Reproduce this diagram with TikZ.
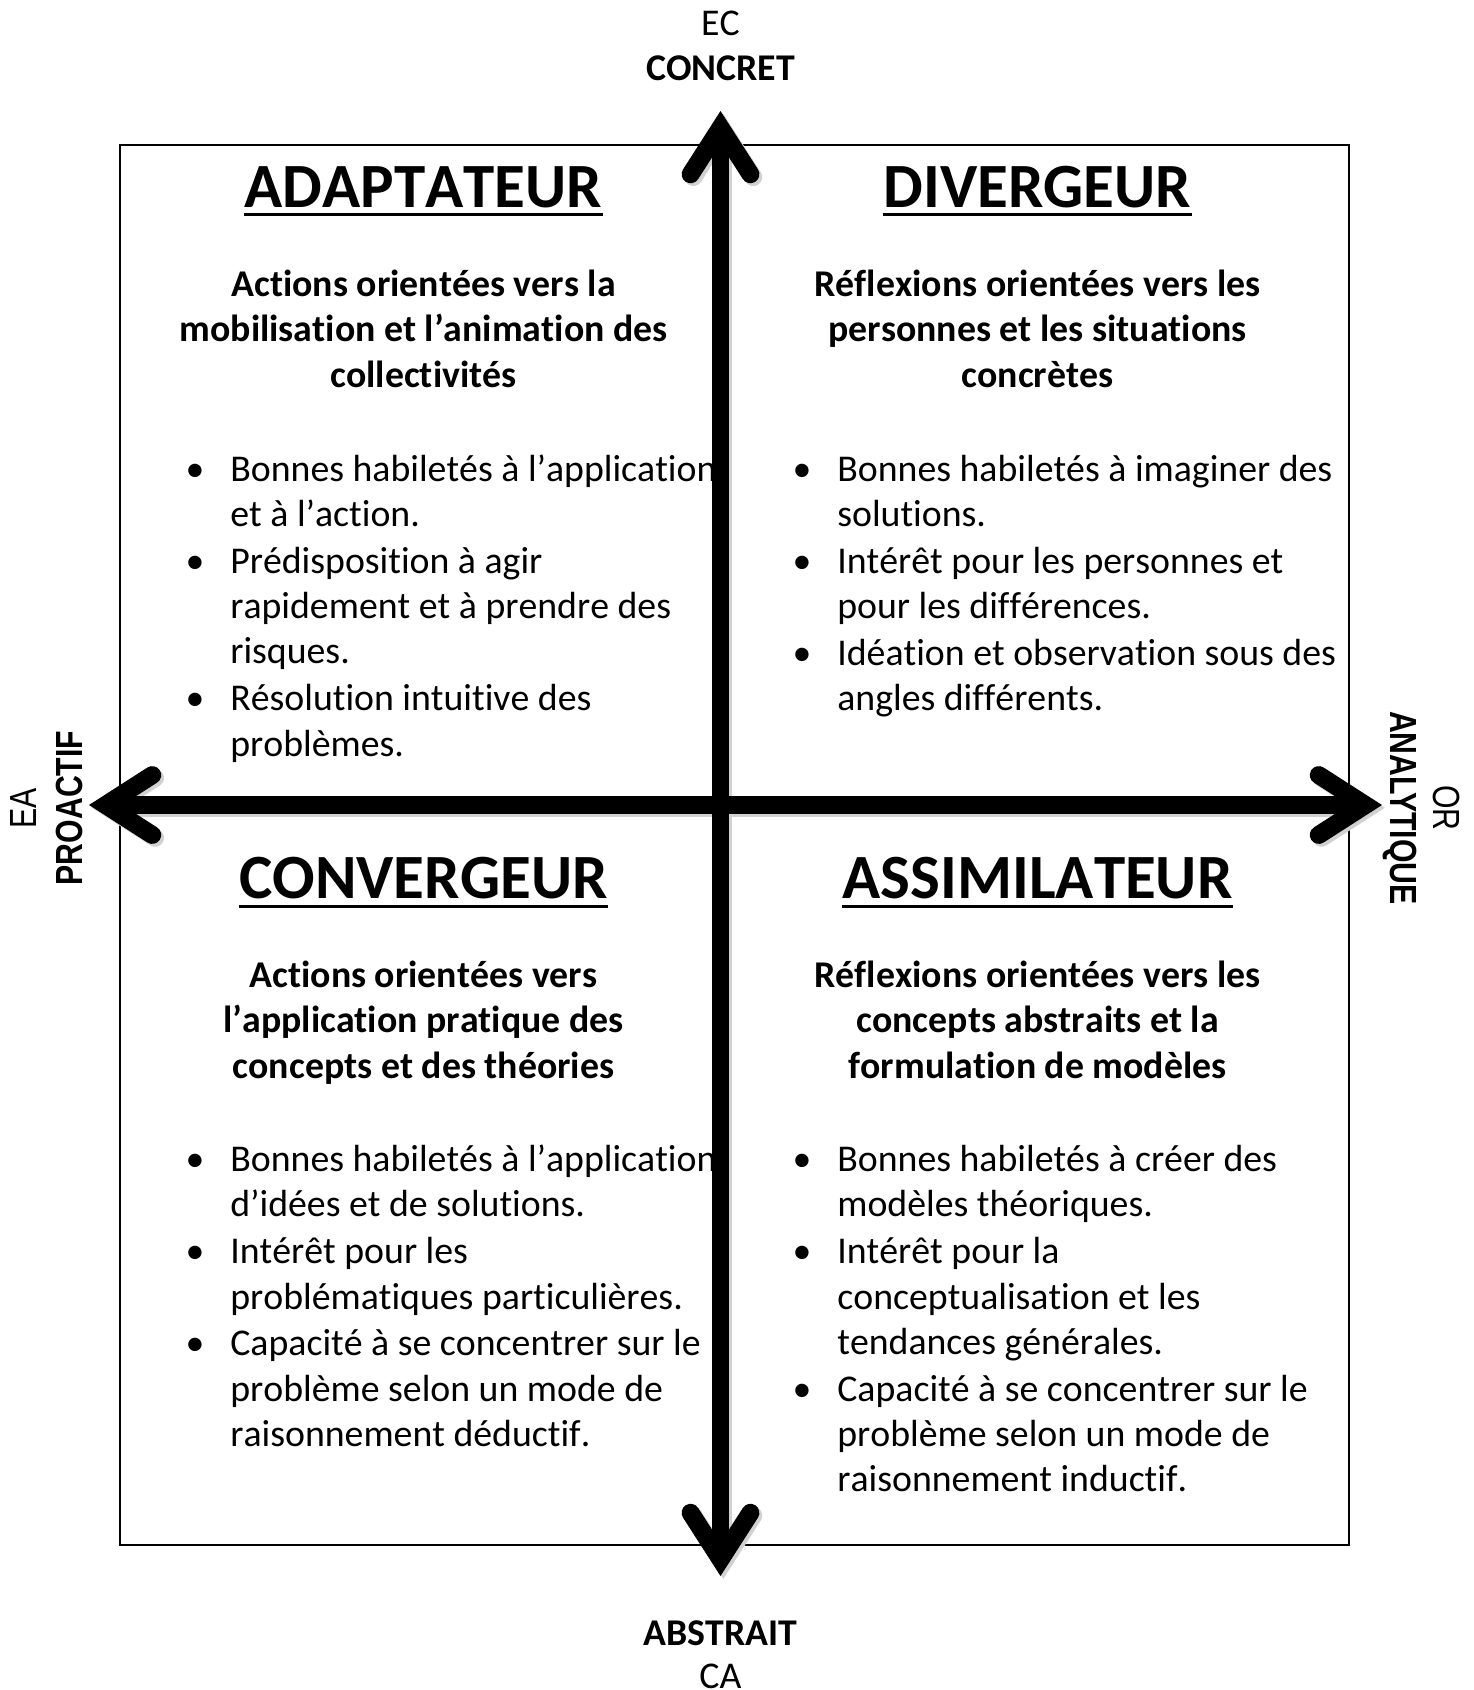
\documentclass[tikz,border=0pt]{standalone}
\usepackage{fontspec}
\setmainfont{Carlito}[Kerning=Off, Ligatures=NoCommon]
\newfontfamily\sidefont[FakeStretch=0.8]{Liberation Sans}
\usetikzlibrary{arrows.meta}

\newcommand{\corps}{\fontsize{12}{14.38}\selectfont}
\newcommand{\puce}[1]{\spaceskip=\fontdimen2\font\relax\noindent\hangindent=14.2pt\hangafter=1\strut\makebox[14.2pt][l]{\textbullet}#1\par}

\tikzset{
	cadre/.style={line width=0.65pt},
	pointe/.tip={Straight Barb[length=14.8pt, width=19pt, line cap=round, line join=miter]},
	axe/.style={line width=5.7pt, pointe-pointe},
	ombre/.style={axe, draw=black!18, transform canvas={xshift=0.9pt, yshift=-0.9pt}},
	titre/.style={font=\fontsize{20}{24}\selectfont\bfseries, inner sep=0pt, anchor=base},
	soulign/.style={line width=1pt},
	soustitre/.style={font=\corps\bfseries, align=center, inner sep=0pt, anchor=north},
	liste/.style={font=\corps, text width=200pt, align=left, inner sep=0pt, anchor=north west,
		execute at begin node={\setlength{\parskip}{0.5pt}}},
	pole/.style={font=\corps, inner sep=0pt, anchor=base},
	cote/.style={font=\sidefont\fontsize{12}{14}\selectfont, inner sep=0pt, anchor=center},
}

\begin{document}
\begin{tikzpicture}[x=0.3175pt, y=-0.3175pt]
	\useasboundingbox (0,0) rectangle (1473,1690);

	% frame
	\draw[cadre] (120,145) rectangle (1349,1545);

	% ADAPTATEUR
	\node[titre] (adaptTitre) at (423.5,207) {ADAPTATEUR};
	\draw[soulign] ([yshift=-2.4pt]adaptTitre.base west) -- ([yshift=-2.4pt]adaptTitre.base east);
	\node[soustitre] (adaptSous) at (423.5,264.3) {\strut Actions orientées vers la\\ mobilisation et l’animation des\\ collectivités};
	\node[liste] (adaptListe) at (185,448.8) {%
		\puce{Bonnes habiletés à l’application\newline et à l’action.}
		\puce{Prédisposition à agir\newline rapidement et à prendre des\newline risques.}
		\puce{Résolution intuitive des\newline problèmes.}};

	% DIVERGEUR
	\node[titre] (divTitre) at (1037.6,207) {DIVERGEUR};
	\draw[soulign] ([yshift=-2.4pt]divTitre.base west) -- ([yshift=-2.4pt]divTitre.base east);
	\node[soustitre] (divSous) at (1037.6,264.3) {\strut Réflexions orientées vers les\\ personnes et les situations\\ concrètes};
	\node[liste] (divListe) at (792,448.8) {%
		\puce{Bonnes habiletés à imaginer des\newline solutions.}
		\puce{Intérêt pour les personnes et\newline pour les différences.}
		\puce{Idéation et observation sous des\newline angles différents.}};

	% CONVERGEUR
	\node[titre] (convTitre) at (423.5,898.6) {CONVERGEUR};
	\draw[soulign] ([yshift=-2.4pt]convTitre.base west) -- ([yshift=-2.4pt]convTitre.base east);
	\node[soustitre] (convSous) at (423.5,955.3) {\strut Actions orientées vers\\ l’application pratique des\\ concepts et des théories};
	\node[liste] (convListe) at (185,1139.3) {%
		\puce{Bonnes habiletés à l’application\newline d’idées et de solutions.}
		\puce{Intérêt pour les\newline problématiques particulières.}
		\puce{Capacité à se concentrer sur le\newline problème selon un mode de\newline raisonnement déductif.}};

	% ASSIMILATEUR
	\node[titre] (assimTitre) at (1037.6,898.6) {ASSIMILATEUR};
	\draw[soulign] ([yshift=-2.4pt]assimTitre.base west) -- ([yshift=-2.4pt]assimTitre.base east);
	\node[soustitre] (assimSous) at (1037.6,955.3) {\strut Réflexions orientées vers les\\ concepts abstraits et la\\ formulation de modèles};
	\node[liste] (assimListe) at (792,1139.3) {%
		\puce{Bonnes habiletés à créer des\newline modèles théoriques.}
		\puce{Intérêt pour la\newline conceptualisation et les\newline tendances générales.}
		\puce{Capacité à se concentrer sur le\newline problème selon un mode de\newline raisonnement inductif.}};

	% axis ends
	\coordinate (haut) at (720.5,111);
	\coordinate (bas) at (720.5,1576);
	\coordinate (gauche) at (89,805);
	\coordinate (droite) at (1382,805);

	% axes (soft shadow first)
	\draw[ombre] (gauche) -- (droite);
	\draw[ombre] (haut) -- (bas);
	\draw[axe] (gauche) -- (droite);
	\draw[axe] (haut) -- (bas);

	% top and bottom labels
	\node[pole] (ec) at (720.5,35.9) {EC};
	\node[pole, font=\corps\bfseries] (concret) at (720.5,80) {CONCRET};
	\node[pole, font=\corps\bfseries] (abstrait) at (720.5,1645.7) {ABSTRAIT};
	\node[pole] (ca) at (720.5,1688.8) {CA};

	% side labels
	\node[cote, rotate=90] (ea) at (23.7,808) {EA};
	\node[cote, font=\sidefont\fontsize{12}{14}\selectfont\bfseries, rotate=90] (proactif) at (69,808) {PROACTIF};
	\node[cote, font=\sidefont\fontsize{12}{14}\selectfont\bfseries, rotate=-90] (analytique) at (1399.7,808) {ANALYTIQUE};
	\node[cote, rotate=-90] (or) at (1446,808) {OR};
\end{tikzpicture}
\end{document}
